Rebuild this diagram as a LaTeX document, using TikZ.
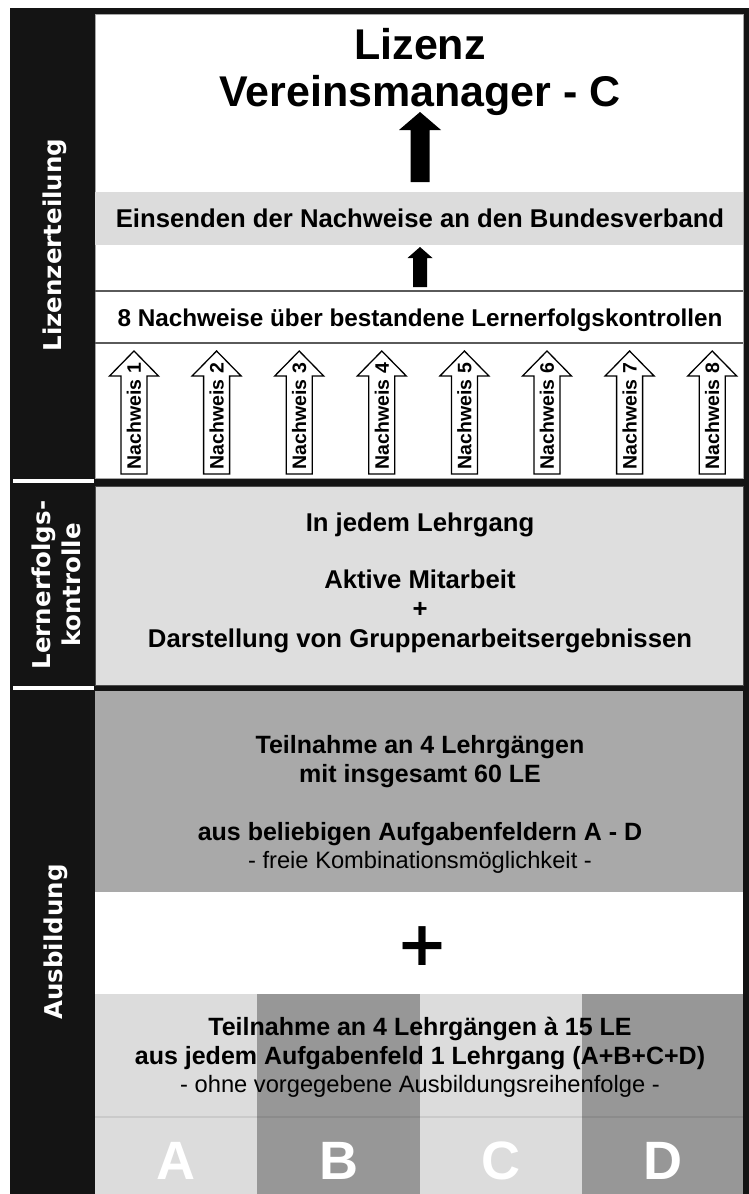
\documentclass[tikz,border=0pt]{standalone}
\usepackage{fontspec}
\setmainfont{Liberation Sans}
\newfontfamily\sidefont{DejaVu Sans}
\newcommand{\myfs}[1]{\fontsize{#1}{#1}\selectfont}
\definecolor{framecol}{HTML}{141414}
\definecolor{bandgray}{HTML}{DCDCDC}
\definecolor{lkgray}{HTML}{DEDEDE}
\definecolor{midgray}{HTML}{A9A9A9}
\definecolor{colA}{HTML}{DCDCDC}
\definecolor{colB}{HTML}{979797}
\definecolor{rulegray}{HTML}{5A5A5A}
\begin{document}
\begin{tikzpicture}[x=1pt,y=-1pt,
  body/.style={font=\bfseries\myfs{25}, anchor=base, inner sep=0pt},
  bodybig/.style={font=\bfseries\myfs{25.7}, anchor=base, inner sep=0pt},
  bodyreg/.style={font=\myfs{23.7}, anchor=base, inner sep=0pt},
  title/.style={font=\bfseries\myfs{43}, anchor=base, inner sep=0pt},
  side/.style={font=\sidefont\bfseries\fontsize{24.5}{30}\selectfont, text=white, rotate=90, inner sep=0pt},
  nwtext/.style={font=\bfseries\myfs{19.5}, rotate=90, inner sep=0pt},
  nwarrow/.style={draw=black, fill=white, line width=1.3pt, line join=miter},
  blockarrow/.style={fill=black},
  letter/.style={font=\bfseries\myfs{54}, text=white, anchor=base, inner sep=0pt},
  panel/.style={draw=gray!70, line width=0.8pt},
  sep/.style={fill=white}
  ]
\useasboundingbox (0,0) rectangle (749,1194);
\fill[white] (0,0) rectangle (749,1194);
\fill[framecol] (10,8) rectangle (749,1194);

% ---- Lizenzerteilung section
\path[panel, fill=white] (95,14) rectangle (743,478);
\fill[bandgray] (95,192) rectangle (743,245);
\draw[rulegray, line width=1.5pt] (95,291) -- (743,291);
\draw[rulegray, line width=1.5pt] (95,343) -- (743,343);

\node[title] (t1) at (420,59) {Lizenz};
\node[title] (t2) at (420,106) {Vereinsmanager - C};
\node[bodybig] (einsenden) at (420,227) {Einsenden der Nachweise an den Bundesverband};
\node[body, font=\bfseries\myfs{24.3}] (acht) at (420,326) {8 Nachweise über bestandene Lernerfolgskontrollen};

% block arrows
\fill[blockarrow] (420,112) -- (441,130) -- (429.5,130) -- (429.5,182) -- (410.5,182) -- (410.5,130) -- (399,130) -- cycle;
\fill[blockarrow] (420,247) -- (432.5,258) -- (427,258) -- (427,287) -- (413,287) -- (413,258) -- (407.5,258) -- cycle;

% Nachweis arrows
\foreach \i in {1,...,8}{
  \pgfmathsetmacro{\cx}{134+82.6*(\i-1)}
  \draw[nwarrow] (\cx,351) -- (\cx+24.5,376) -- (\cx+13,376) -- (\cx+13,474) -- (\cx-13,474) -- (\cx-13,376) -- (\cx-24.5,376) -- cycle;
  \node[nwtext] (nw\i) at (\cx,416) {Nachweis \i};
}

% ---- Lernerfolgskontrolle section
\path[panel, draw=gray!60!black, fill=lkgray] (95,486) rectangle (743,685);
\node[bodybig] (jedem) at (420,531) {In jedem Lehrgang};
\node[bodybig] (aktiv) at (420,588) {Aktive Mitarbeit};
\node[bodybig] (plus1) at (420,617) {+};
\node[bodybig] (darst) at (420,647) {Darstellung von Gruppenarbeitsergebnissen};

% ---- Ausbildung section
\fill[midgray] (95,691) rectangle (743,892);
\fill[white] (95,892) rectangle (743,994);
\fill[colA] (95,994) rectangle (257,1194);
\fill[colB] (257,994) rectangle (420,1194);
\fill[colA] (420,994) rectangle (582,1194);
\fill[colB] (582,994) rectangle (743,1194);
\draw[black, opacity=0.08, line width=2pt] (95,1117) -- (743,1117);

\node[body] (teil1) at (420,753) {Teilnahme an 4 Lehrgängen};
\node[body] (teil2) at (420,782) {mit insgesamt 60 LE};
\node[body] (teil3) at (420,840) {aus beliebigen Aufgabenfeldern A - D};
\node[bodyreg] (teil4) at (420,868) {- freie Kombinationsmöglichkeit -};

\node[font=\sidefont\bfseries\myfs{62}, inner sep=0pt] (bigplus) at (422,946) {+};

\node[body] (teil5) at (420,1035) {Teilnahme an 4 Lehrgängen à 15 LE};
\node[body] (teil6) at (420,1064) {aus jedem Aufgabenfeld 1 Lehrgang (A+B+C+D)};
\node[bodyreg] (teil7) at (420,1092) {- ohne vorgegebene Ausbildungsreihenfolge -};

\node[letter] (la) at (176,1179) {A};
\node[letter] (lb) at (338.5,1179) {B};
\node[letter] (lc) at (501,1179) {C};
\node[letter] (ld) at (662.5,1179) {D};

% ---- left column
\fill[sep] (13,479) rectangle (94,483);
\fill[sep] (13,686) rectangle (94,690);
\node[side, anchor=base] (s1) at (61,245) {Lizenzerteilung};
\node[side, align=center] (s2) at (56,585) {Lernerfolgs-\\kontrolle};
\node[side, anchor=base] (s3) at (62,942) {Ausbildung};
\end{tikzpicture}
\end{document}
